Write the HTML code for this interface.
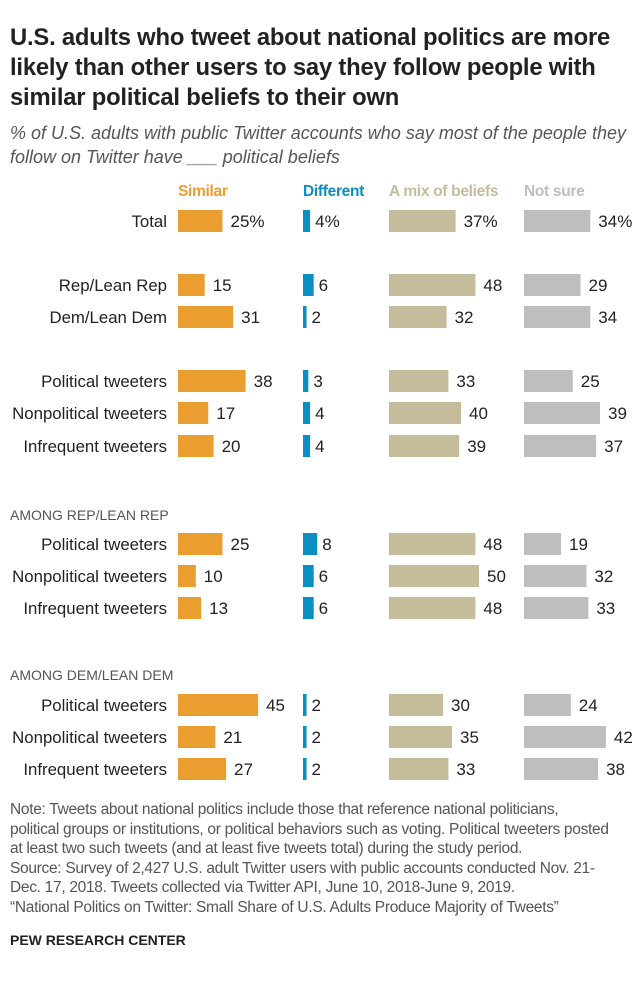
<!DOCTYPE html>
<html><head><meta charset="utf-8"><style>
body{margin:0;width:640px;height:982px;background:#fff;font-family:"Liberation Sans",sans-serif;position:relative;overflow:hidden;color:#222}
.t{position:absolute;left:10px;top:23px;font-size:23.8px;font-weight:bold;line-height:30px;white-space:nowrap;letter-spacing:-0.2px}
.s{position:absolute;left:10px;top:121px;font-size:18px;font-style:italic;line-height:24px;color:#555;white-space:nowrap}
.n{position:absolute;left:10px;top:800px;font-size:15.5px;line-height:19.5px;color:#555;white-space:nowrap;letter-spacing:-0.3px}
.p{position:absolute;left:10px;top:932px;font-size:14px;font-weight:bold;color:#222}
</style></head><body>
<div class="t">U.S. adults who tweet about national politics are more<br>likely than other users to say they follow people with<br>similar political beliefs to their own</div>
<div class="s">% of U.S. adults with public Twitter accounts who say most of the people they<br>follow on Twitter have ___ political beliefs</div>
<svg id="c" width="640" height="800" style="position:absolute;left:0;top:0"></svg>
<div class="n">Note: Tweets about national politics include those that reference national politicians,<br>political groups or institutions, or political behaviors such as voting. Political tweeters posted<br>at least two such tweets (and at least five tweets total) during the study period.<br>Source: Survey of 2,427 U.S. adult Twitter users with public accounts conducted Nov. 21-<br>Dec. 17, 2018. Tweets collected via Twitter API, June 10, 2018-June 9, 2019.<br>“National Politics on Twitter: Small Share of U.S. Adults Produce Majority of Tweets”</div>
<div class="p">PEW RESEARCH CENTER</div>
<script>
const categories=["Total","Rep/Lean Rep","Dem/Lean Dem","Political tweeters","Nonpolitical tweeters","Infrequent tweeters","Political tweeters","Nonpolitical tweeters","Infrequent tweeters","Political tweeters","Nonpolitical tweeters","Infrequent tweeters"];
const similar=[25,15,31,38,17,20,25,10,13,45,21,27];
const different=[4,6,2,3,4,4,8,6,6,2,2,2];
const mix=[37,48,32,33,40,39,48,50,48,30,35,33];
const notSure=[34,29,34,25,39,37,19,32,33,24,42,38];
const seriesNames=["Similar","Different","A mix of beliefs","Not sure"];
const sectionHeaders=["AMONG REP/LEAN REP","AMONG DEM/LEAN DEM"];
const rowY=[221,285,317,381,413,446,544,576,608,705,737,769];
const secY=[515,675];
const cols=[{x:178,k:1.78,c:"#ea9e2f",d:similar},{x:303,k:1.78,c:"#0b8fc3",d:different},{x:389,k:1.8,c:"#c4bc9b",d:mix},{x:524,k:1.95,c:"#bdbec0",d:notSure}];
const svg=document.getElementById('c');const NS="http://www.w3.org/2000/svg";
function mk(t,a,txt){const e=document.createElementNS(NS,t);for(const k in a)e.setAttribute(k,a[k]);if(txt!=null)e.textContent=txt;svg.appendChild(e);return e;}
const hx=[178,303,389,524];
seriesNames.forEach((n,i)=>{const e=mk('text',{x:hx[i],y:196,'font-size':15.5,'font-weight':'bold',fill:cols[i].c,'letter-spacing':'-0.3'},n);

});
sectionHeaders.forEach((h,i)=>{const e=mk('text',{x:10,y:secY[i]+5,'font-size':14,fill:'#555'},h);

});
categories.forEach((c,r)=>{const y=rowY[r];
const l=mk('text',{x:167,y:y+6,'font-size':16.8,'text-anchor':'end',fill:'#222'},c);


cols.forEach((col,j)=>{const w=col.d[r]*col.k;
const b=mk('rect',{x:col.x,y:y-11,width:w,height:22,fill:col.c});


const v=mk('text',{x:col.x+w+(j===1?5:8),y:y+6,'font-size':17,fill:'#222'},col.d[r]+(r===0?'%':''));

});});
</script>
</body></html>
